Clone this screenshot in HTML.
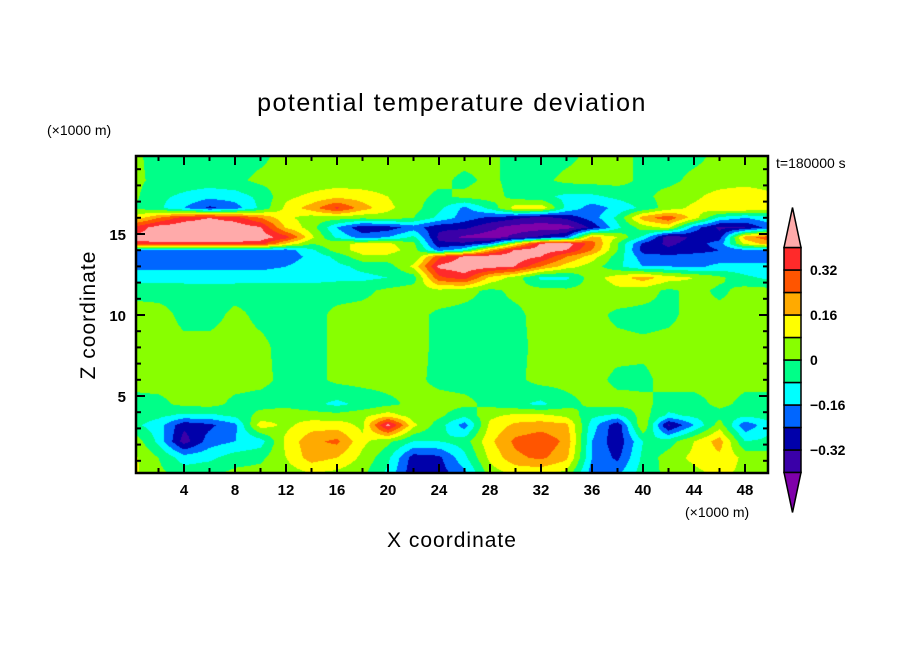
<!DOCTYPE html>
<html><head><meta charset="utf-8"><style>
html,body{margin:0;padding:0;background:#fff;}
#wrap{position:relative;width:904px;height:654px;overflow:hidden;font-family:"Liberation Sans",sans-serif;}
svg text{font-family:"Liberation Sans",sans-serif;}
</style></head><body>
<div id="wrap">
<canvas id="cv" width="632" height="317" style="position:absolute;left:136px;top:156px;"></canvas>
<svg id="sv" width="904" height="654" style="position:absolute;left:0;top:0;"></svg>
</div>
<script>
// ---- data ----
const xs = [0,2,4,6,8,10,12,14,16,18,20,22,24,26,28,30,32,34,36,38,40,42,44,46,48,50];
const zs = [0.25,1.2,2.2,3.2,3.8,4.5,6,8,10,11.5,12.3,13,13.6,14,14.4,14.8,15.4,16,16.6,17.3,18.3,19.8];
const row00 = [0.1,0.02,-0.04,-0.02,0.02,0.03,0.04,0.08,0.06,0.02,-0.1,-0.3,-0.28,-0.18,0.04,0.1,0.1,0.06,-0.2,-0.18,-0.04,0.02,0.06,0.1,0.06,0.04];
const row01 = [0.1,0.0,-0.12,-0.1,-0.04,-0.02,0.08,0.2,0.16,0.06,-0.06,-0.28,-0.26,-0.1,0.1,0.22,0.26,0.18,-0.16,-0.26,-0.06,0.04,0.1,0.14,0.06,0.04];
const row02 = [0.06,-0.1,-0.36,-0.2,-0.16,-0.12,0.1,0.22,0.26,0.1,0.02,-0.08,-0.08,-0.04,0.14,0.26,0.3,0.22,-0.16,-0.3,-0.08,-0.04,0.08,0.2,-0.08,-0.06];
const row03 = [-0.06,-0.12,-0.3,-0.26,-0.18,0.12,0.06,0.12,0.12,0.06,0.44,0.1,-0.04,-0.2,0.1,0.18,0.2,0.18,-0.12,-0.3,0.08,-0.34,-0.16,0.04,-0.22,-0.1];
const row04 = [-0.03,-0.06,-0.1,-0.1,-0.06,0.03,0.06,0.04,0.03,0.06,0.12,0.04,0.02,-0.06,0.06,0.1,0.1,0.06,-0.06,-0.1,0.04,-0.1,-0.06,-0.03,-0.06,-0.04];
const row05 = [-0.03,-0.02,0.02,0.03,-0.02,-0.03,-0.03,-0.06,-0.1,-0.06,-0.02,0.02,0.03,0.02,-0.02,-0.06,-0.1,-0.03,0.02,0.03,0.02,-0.03,-0.03,0.02,-0.02,-0.03];
const row06 = [0.03,0.03,0.03,0.03,0.03,0.02,-0.02,-0.03,0.02,0.03,0.03,0.02,-0.02,-0.03,-0.03,-0.02,0.03,0.03,0.03,-0.02,-0.02,0.03,0.03,0.03,0.02,0.03];
const row07 = [0.03,0.03,0.02,0.03,0.03,0.02,-0.03,-0.03,0.02,0.03,0.03,0.03,-0.02,-0.03,-0.03,-0.02,0.02,0.03,0.03,0.03,0.02,0.03,0.03,0.03,0.03,0.03];
const row08 = [0.03,0.03,-0.02,-0.03,0.02,-0.02,-0.03,-0.03,0.02,0.03,0.03,0.03,-0.02,-0.03,-0.03,-0.02,0.03,0.03,0.03,-0.02,-0.03,-0.02,0.03,0.03,0.03,0.03];
const row09 = [-0.02,-0.03,-0.03,-0.04,-0.03,-0.03,-0.03,-0.02,-0.03,-0.02,0.02,0.04,0.06,0.03,-0.02,0.02,0.03,0.02,0.03,0.06,0.04,-0.02,0.03,-0.02,0.03,0.03];
const row10 = [-0.12,-0.12,-0.12,-0.12,-0.12,-0.12,-0.12,-0.12,-0.1,-0.1,-0.08,-0.04,0.3,0.36,0.14,0.04,-0.1,-0.1,0.04,0.12,0.2,0.12,0.08,0.02,-0.06,-0.1];
const row11 = [-0.18,-0.18,-0.18,-0.18,-0.18,-0.18,-0.16,-0.12,-0.1,-0.06,-0.04,0.1,0.42,0.46,0.44,0.4,0.24,0.12,0.04,-0.06,-0.16,-0.16,-0.18,-0.14,-0.14,-0.14];
const row12 = [-0.2,-0.2,-0.2,-0.2,-0.2,-0.2,-0.2,-0.14,-0.06,0.06,0.06,0.0,0.3,0.42,0.45,0.45,0.4,0.24,0.12,-0.04,-0.2,-0.22,-0.2,-0.2,-0.2,-0.2];
const row13 = [-0.2,-0.2,-0.2,-0.2,-0.2,-0.2,-0.2,-0.1,0.04,0.12,0.12,0.04,-0.2,-0.1,0.2,0.42,0.45,0.4,0.24,0.0,-0.28,-0.3,-0.28,-0.24,-0.18,-0.18];
const row14 = [0.38,0.38,0.38,0.38,0.38,0.36,0.15,0.0,0.06,0.1,0.1,0.02,-0.3,-0.3,-0.2,0.1,0.42,0.45,0.28,0.0,-0.26,-0.34,-0.28,-0.2,0.1,0.2];
const row15 = [0.42,0.45,0.45,0.45,0.45,0.45,0.36,0.1,-0.1,-0.2,-0.16,-0.06,-0.34,-0.42,-0.44,-0.38,-0.3,-0.22,0.2,0.08,-0.1,-0.38,-0.3,-0.28,0.2,0.3];
const row16 = [0.34,0.44,0.46,0.46,0.46,0.41,0.15,0.04,-0.16,-0.3,-0.28,-0.2,-0.3,-0.3,-0.38,-0.44,-0.44,-0.44,-0.3,-0.1,0.04,0.1,-0.2,-0.34,-0.32,-0.2];
const row17 = [0.1,0.24,0.36,0.4,0.36,0.24,0.1,0.04,0.04,0.02,0.04,0.0,-0.1,-0.2,-0.26,-0.3,-0.36,-0.3,-0.2,-0.06,0.2,0.3,0.12,-0.1,-0.16,-0.1];
const row18 = [0.0,-0.06,-0.16,-0.26,-0.2,-0.06,0.1,0.2,0.34,0.2,0.1,0.03,-0.06,-0.18,-0.06,0.12,0.14,-0.1,-0.2,-0.14,-0.06,0.04,0.1,0.14,0.16,0.12];
const row19 = [0.02,-0.06,-0.1,-0.14,-0.12,-0.06,0.06,0.1,0.14,0.12,0.08,0.03,-0.02,0.02,0.04,-0.03,-0.06,-0.1,-0.1,-0.06,-0.02,0.03,0.06,0.12,0.16,0.1];
const row20 = [0.02,-0.02,-0.03,-0.03,-0.02,0.02,0.03,0.03,0.03,0.03,0.03,0.03,0.02,-0.02,0.02,-0.03,-0.02,0.02,0.03,0.03,-0.02,-0.02,0.02,0.03,0.03,0.03];
const row21 = [0.02,-0.03,-0.03,-0.03,-0.03,-0.02,0.03,0.03,0.03,0.03,0.03,0.03,0.03,0.03,0.02,-0.03,-0.03,-0.02,0.02,0.03,-0.02,-0.03,-0.02,0.02,0.03,0.03];
const grid = [row00,row01,row02,row03,row04,row05,row06,row07,row08,row09,row10,row11,row12,row13,row14,row15,row16,row17,row18,row19,row20,row21];
const levels = [-0.4,-0.32,-0.24,-0.16,-0.08,0,0.08,0.16,0.24,0.32,0.4];
const levelColors = ["#7f00aa","#3a00a8","#0000aa","#0066ff","#00ffff","#00ff88","#88ff00","#ffff00","#ffaa00","#ff5500","#ff2a2a","#ffaaaa"];
const xTicks = [4,8,12,16,20,24,28,32,36,40,44,48];
const zTicks = [5,10,15];
const cbarLabels = ["0.32","0.16","0","\u22120.16","\u22120.32"];
const cbarLabelVals = [0.32,0.16,0,-0.16,-0.32];

// ---- axes ----
const PL=136,PR=768,PT=156,PB=473;
const X = x => 133 + 12.75*x;
const Z = z => 477 - 16.2*z;
const Xinv = px => (px-133)/12.75;
const Zinv = py => (477-py)/16.2;

function hex(c){return [parseInt(c.substr(1,2),16),parseInt(c.substr(3,2),16),parseInt(c.substr(5,2),16)];}
function sample(x,z){
  let i=0; while(i<xs.length-2 && x>xs[i+1]) i++;
  let j=0; while(j<zs.length-2 && z>zs[j+1]) j++;
  let tx=(x-xs[i])/(xs[i+1]-xs[i]); tx=Math.max(0,Math.min(1,tx));
  let tz=(z-zs[j])/(zs[j+1]-zs[j]); tz=Math.max(0,Math.min(1,tz));
  const a=grid[j][i],b=grid[j][i+1],c=grid[j+1][i],d=grid[j+1][i+1];
  return (a*(1-tx)+b*tx)*(1-tz)+(c*(1-tx)+d*tx)*tz;
}
const cv=document.getElementById('cv');const ctx=cv.getContext('2d');
const img=ctx.createImageData(cv.width,cv.height);
const rgbCache=levelColors.map(hex);
for(let py=0;py<cv.height;py++){
  const z=Zinv(PT+py+0.5);
  for(let px=0;px<cv.width;px++){
    const v=sample(Xinv(PL+px+0.5),z);
    let k=0;while(k<levels.length && v>=levels[k]) k++;
    const c=rgbCache[k];const o=(py*cv.width+px)*4;
    img.data[o]=c[0];img.data[o+1]=c[1];img.data[o+2]=c[2];img.data[o+3]=255;
  }
}
ctx.putImageData(img,0,0);

const NS="http://www.w3.org/2000/svg";
const sv=document.getElementById('sv');
function mk(tag,attrs,name,txt){const e=document.createElementNS(NS,tag);for(const k in attrs)e.setAttribute(k,attrs[k]);


if(txt!==undefined)e.textContent=txt;sv.appendChild(e);return e;}

mk('rect',{x:PL,y:PT,width:PR-PL,height:PB-PT,fill:'none',stroke:'#000','stroke-width':2.5},'plot-frame');
for(let x=2;x<50;x+=2){
  const maj=xTicks.indexOf(x)>=0;const L=maj?9:5;
  mk('line',{x1:X(x),x2:X(x),y1:PB,y2:PB-L,stroke:'#000','stroke-width':2},'x-tick');
  mk('line',{x1:X(x),x2:X(x),y1:PT,y2:PT+L,stroke:'#000','stroke-width':2},'x-tick-top');
}
xTicks.forEach(t=>mk('text',{x:X(t),y:PB+22,'text-anchor':'middle','font-size':15,'font-weight':'bold'},'x-tick-label',String(t)));
for(let z=1;z<20;z++){
  const maj=zTicks.indexOf(z)>=0;const L=maj?9:5;
  mk('line',{x1:PL,x2:PL+L,y1:Z(z),y2:Z(z),stroke:'#000','stroke-width':2},'y-tick');
  mk('line',{x1:PR,x2:PR-L,y1:Z(z),y2:Z(z),stroke:'#000','stroke-width':2},'y-tick-right');
}
zTicks.forEach(t=>mk('text',{x:PL-10,y:Z(t)+6,'text-anchor':'end','font-size':15,'font-weight':'bold'},'y-tick-label',String(t)));

mk('text',{x:452,y:111,'text-anchor':'middle','font-size':25,'letter-spacing':'1.5'},'chart-title','potential temperature deviation');
mk('text',{x:47,y:135,'font-size':14},'y-unit-label','(\u00d71000 m)');
mk('text',{x:685,y:517,'font-size':14},'x-unit-label','(\u00d71000 m)');
mk('text',{x:452,y:547,'text-anchor':'middle','font-size':21,'letter-spacing':'1'},'x-axis-title','X coordinate');
mk('text',{x:0,y:0,'text-anchor':'middle','font-size':21,'letter-spacing':'1',transform:'translate(95,315) rotate(-90)'},'y-axis-title','Z coordinate');
mk('text',{x:776,y:168,'font-size':14},'time-label','t=180000 s');

const CB0=784,CB1=801;
const CV = v => 360 - (v/0.08)*22.5;
for(let k=1;k<levelColors.length-1;k++){
  const lo=levels[k-1],hi=levels[k];
  mk('rect',{x:CB0,y:CV(hi),width:CB1-CB0,height:CV(lo)-CV(hi),fill:levelColors[k],stroke:'#000','stroke-width':1.5},'colorbar-box');
}
const cbTopY=CV(levels[levels.length-1]),cbBotY=CV(levels[0]);
mk('polygon',{points:`${CB0},${cbTopY} ${(CB0+CB1)/2},${cbTopY-40} ${CB1},${cbTopY}`,fill:levelColors[levelColors.length-1],stroke:'#000','stroke-width':1.5},'colorbar-top-triangle');
mk('polygon',{points:`${CB0},${cbBotY} ${(CB0+CB1)/2},${cbBotY+40} ${CB1},${cbBotY}`,fill:levelColors[0],stroke:'#000','stroke-width':1.5},'colorbar-bottom-triangle');
cbarLabels.forEach((s,i)=>mk('text',{x:810,y:CV(cbarLabelVals[i])+5,'font-size':14,'font-weight':'bold'},'colorbar-label',s));
</script>
</body></html>
